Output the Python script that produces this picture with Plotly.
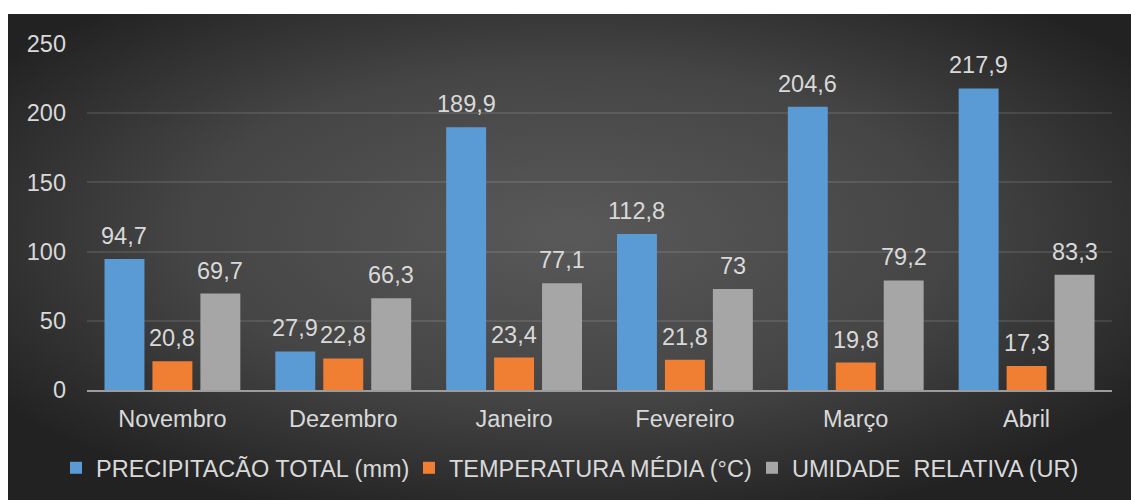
import base64
import plotly.graph_objects as go

# ---- data ----
months = ["Novembro", "Dezembro", "Janeiro", "Fevereiro", "Março", "Abril"]
precip = [94.7, 27.9, 189.9, 112.8, 204.6, 217.9]
temp = [20.8, 22.8, 23.4, 21.8, 19.8, 17.3]
umid = [69.7, 66.3, 77.1, 73.0, 79.2, 83.3]
series_names = ["PRECIPITACÃO TOTAL (mm)", "TEMPERATURA MÉDIA (°C)", "UMIDADE\u00a0 RELATIVA (UR)"]
series_colors = ["#5b9bd5", "#f07f34", "#a6a6a6"]
y_ticks = [0, 50, 100, 150, 200, 250]

W, H = 1131, 500
ML, MR, MT, MB = 87, 19, 44, 110
BARGAP, BARGROUPGAP = 0.158, 0.167
FONT = "Arial, Liberation Sans, sans-serif"
FS = 23.5
TXT = "#d9d9d9"
LEGEND_TEXT_LEFT = [94, 447, 790]  # pixel start of each legend label
LEGEND_MID_Y = 468


def fmt(v):
    s = ("%.1f" % v).replace(".", ",")
    return s[:-2] if s.endswith(",0") else s


fig = go.Figure()
all_series = [precip, temp, umid]
legend_ids = ["legend", "legend2", "legend3"]
for name, vals, col, lid in zip(series_names, all_series, series_colors, legend_ids):
    fig.add_trace(go.Bar(x=months, y=vals, name=name, legend=lid,
                         marker=dict(color=col, line=dict(width=0))))

# data labels as annotations above each bar
plot_w = W - ML - MR
plot_h = H - MT - MB
cat_px = plot_w / len(months)
slot = cat_px * (1 - BARGAP) / 3
annots = []
for si, vals in enumerate(all_series):
    for m, v in zip(months, vals):
        annots.append(dict(x=m, y=v, xref="x", yref="y", text=fmt(v), showarrow=False,
                           xshift=(si - 1) * slot, yanchor="bottom", yshift=8,
                           font=dict(family=FONT, size=FS, color=TXT)))

# background radial gradient (SVG image)
svg = f'''<svg xmlns="http://www.w3.org/2000/svg" width="1123" height="486" viewBox="0 0 1123 486" preserveAspectRatio="none">
<defs><radialGradient id="g" cx="50%" cy="45%" r="62%">
<stop offset="0%" stop-color="#595959"/><stop offset="55%" stop-color="#454545"/><stop offset="100%" stop-color="#222222"/></radialGradient></defs>
<rect x="0" y="0" width="1123" height="486" fill="url(#g)"/></svg>'''
src = "data:image/svg+xml;base64," + base64.b64encode(svg.encode()).decode()
img_x0 = (8 - ML) / plot_w
img_w = (W - 8) / plot_w
img_y1 = (H - MB - 14) / plot_h
img_h = (H - 14) / plot_h

legend_y = (H - MB - LEGEND_MID_Y) / plot_h
legends = {}
for lid, tx in zip(legend_ids, LEGEND_TEXT_LEFT):
    legends[lid] = dict(orientation="h", xref="paper", yref="paper",
                        x=(tx - 38 - ML) / plot_w, y=legend_y,
                        xanchor="left", yanchor="middle", font=dict(size=FS, color=TXT),
                        bgcolor="rgba(0,0,0,0)", itemwidth=30)

fig.update_layout(
    width=W, height=H,
    margin=dict(l=ML, r=MR, t=MT, b=MB, pad=0, autoexpand=False),
    paper_bgcolor="white", plot_bgcolor="rgba(0,0,0,0)",
    barmode="group", bargap=BARGAP, bargroupgap=BARGROUPGAP,
    font=dict(family=FONT, size=FS, color=TXT),
    images=[dict(source=src, xref="paper", yref="paper", x=img_x0, y=img_y1,
                 sizex=img_w, sizey=img_h, xanchor="left", yanchor="top",
                 sizing="stretch", layer="below")],
    annotations=annots,
    showlegend=True,
    xaxis=dict(showgrid=False, showline=True, linecolor="#9c9c9c", linewidth=2,
               ticks="", tickfont=dict(size=FS, color=TXT), ticklabelstandoff=7),
    yaxis=dict(range=[0, 250], tickvals=y_ticks, showgrid=True,
               gridcolor="rgba(255,255,255,0.10)", gridwidth=1.5, zeroline=False,
               ticks="", tickfont=dict(size=FS, color=TXT), ticklabelstandoff=20),
    **legends,
)

fig.write_html("out.html")
